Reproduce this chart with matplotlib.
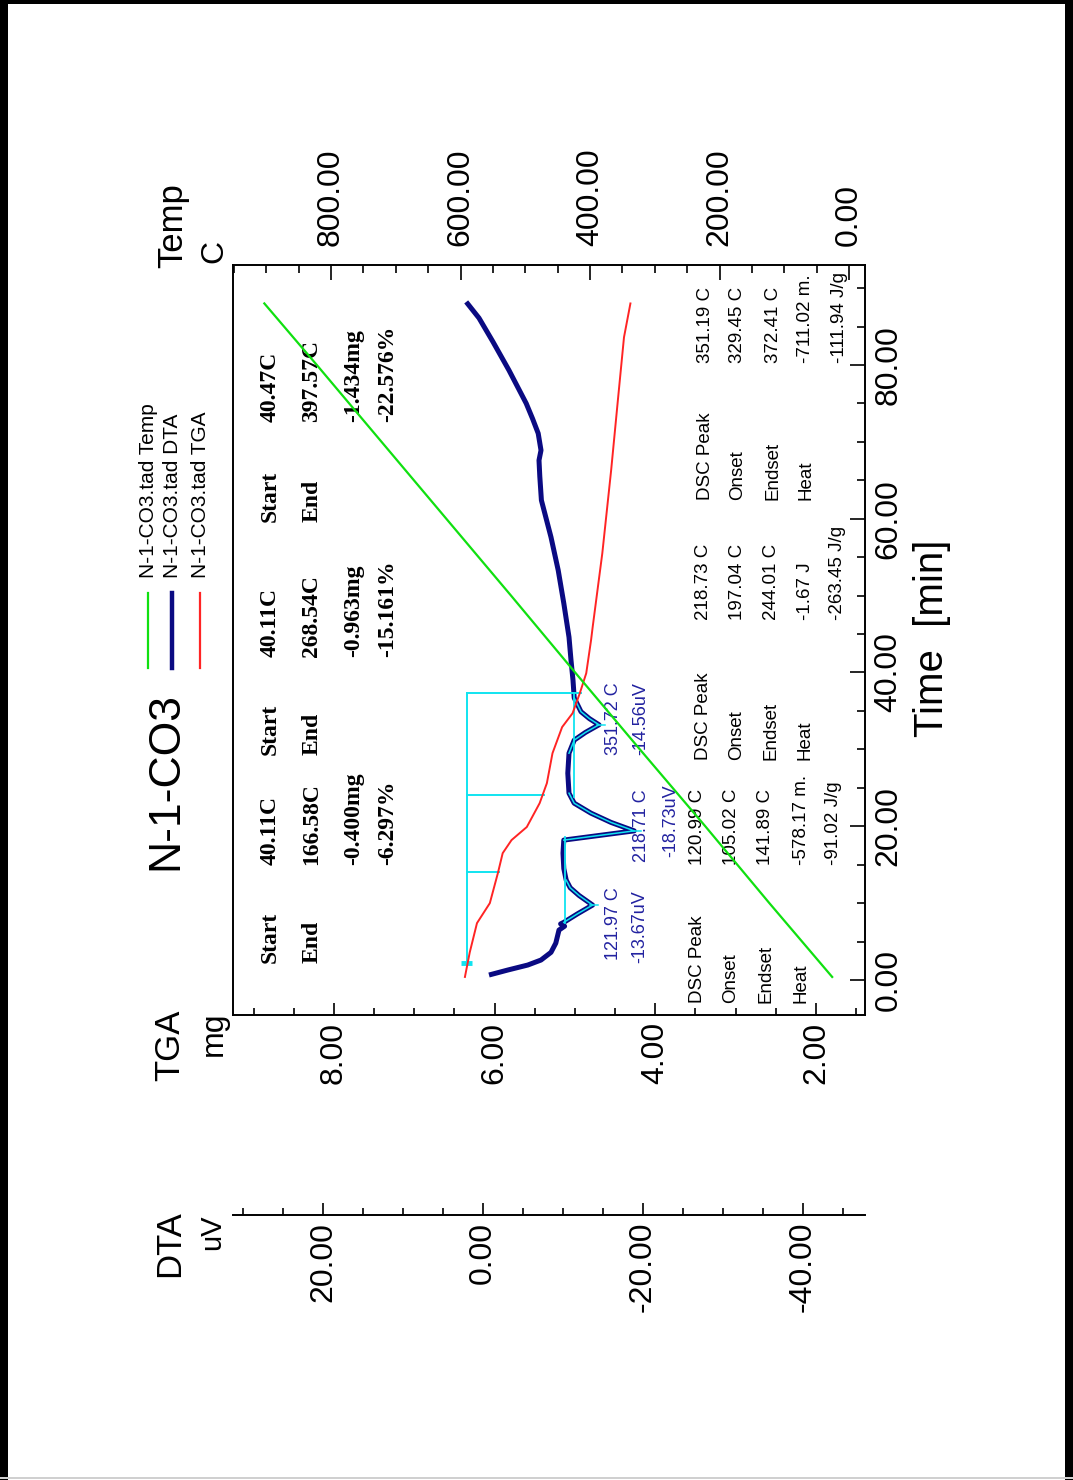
import numpy as np
import matplotlib
matplotlib.use("Agg")
import matplotlib.pyplot as plt
import matplotlib.transforms as mtransforms
from matplotlib.lines import Line2D
from matplotlib.patches import Rectangle
from matplotlib.ticker import FixedLocator, MultipleLocator, FormatStrFormatter
from matplotlib import font_manager as fm

# ---------------- data ----------------
temp_time = [0.4, 10, 20, 30, 40, 50, 60, 70, 80, 88.0]
temp_vals = [26, 123, 222, 323, 423, 522, 622, 722, 822, 903]

dta_time = [0.65, 1.3, 1.95, 2.6, 3.6, 4.8, 6.5, 7.0, 7.3, 7.5, 8.6, 9.75, 11.0, 12.0,
            13.0, 14.5, 16.5, 18.2, 19.4, 20.5, 21.7, 23.0, 24.3, 26.9, 29.5, 31.2,
            32.2, 33.2, 34.0, 34.9, 36.7, 39.0, 41.6, 44.6, 49.0, 53.3, 57.6, 62.4,
            65.5, 67.6, 68.9, 71.1, 73.0, 75.0, 79.3, 83.0, 86.1, 88.2]
dta_vals = [-0.75, -3.1, -5.6, -7.25, -8.5, -9.1, -9.5, -10.2, -9.7, -10.1, -11.8, -13.7,
            -12.0, -10.9, -10.4, -10.1, -10.0, -10.1, -18.9, -16.0, -13.5, -11.4, -10.75,
            -10.6, -10.75, -11.4, -12.8, -14.5, -13.3, -12.25, -11.4, -11.25, -11.0,
            -10.75, -10.1, -9.4, -8.5, -7.3, -7.1, -7.0, -7.25, -6.9, -6.2, -5.4, -3.25,
            -1.25, 0.5, 2.1]

tga_time = [0.4, 3.6, 7.4, 10.0, 13.9, 16.5, 18.2, 19.9, 23.0, 25.6, 29.5, 32.9, 34.7,
            37.3, 39.9, 44.2, 45.9, 55.5, 66.3, 75.0, 83.6, 88.0]
tga_vals = [6.37, 6.31, 6.22, 6.06, 5.96, 5.90, 5.79, 5.60, 5.44, 5.35, 5.28, 5.16, 5.03,
            4.94, 4.86, 4.80, 4.78, 4.66, 4.55, 4.47, 4.39, 4.31]

tga_initial_mass = 6.35
tga_start_time = 2.2
tga_step_times = [14.0, 24.1, 37.3]
tga_step_masses = [5.95, 5.39, 4.92]

peak_windows = [(7.4, 13.0), (18.2, 24.3), (29.5, 36.7)]
peak_times = [9.75, 19.4, 33.2]
peak_tips = [-14.4, -19.7, -15.3]
baseline_segments = [((7.4, 18.6), -10.3), ((23.8, 37.3), -11.4)]

time_ticks = [0, 20, 40, 60, 80]
tga_ticks = [2.0, 4.0, 6.0, 8.0]
temp_ticks = [0, 200, 400, 600, 800]
dta_ticks = [-40, -20, 0, 20]

title = "N-1-CO3"
legend_labels = ["N-1-CO3.tad Temp", "N-1-CO3.tad DTA", "N-1-CO3.tad TGA"]

step_blocks = [
    (("Start", "End"), ("40.11C", "166.58C", "-0.400mg", "-6.297%")),
    (("Start", "End"), ("40.11C", "268.54C", "-0.963mg", "-15.161%")),
    (("Start", "End"), ("40.47C", "397.57C", "-1.434mg", "-22.576%")),
]
dsc_labels = ["DSC Peak", "Onset", "Endset", "Heat"]
dsc_values = [
    ["120.99 C", "105.02 C", "141.89 C", "-578.17 m.", "-91.02 J/g"],
    ["218.73 C", "197.04 C", "244.01 C", "-1.67 J", "-263.45 J/g"],
    ["351.19 C", "329.45 C", "372.41 C", "-711.02 m.", "-111.94 J/g"],
]
peak_labels = [
    ("121.97 C", "-13.67uV"),
    ("218.71 C", "-18.73uV"),
    ("351.72 C", "-14.56uV"),
]

# ---------------- style ----------------
W, H, DPI = 1073, 1480, 100
GREEN = "#10e010"
NAVY = "#0a0a82"
RED = "#ff2424"
CYAN = "#10e4f0"
PEAKBLUE = "#2222a0"

names = {f.name for f in fm.fontManager.ttflist}
SANS = "Liberation Sans" if "Liberation Sans" in names else "DejaVu Sans"
SERIF = "Liberation Serif" if "Liberation Serif" in names else "DejaVu Serif"
if "Liberation Sans Narrow" in names:
    NARROW, NARROW_SIZE = "Liberation Sans Narrow", 28
else:
    NARROW, NARROW_SIZE = SANS, 23

plt.rcParams["font.family"] = [SANS, "DejaVu Sans"]

fig = plt.figure(figsize=(W / DPI, H / DPI), dpi=DPI, facecolor="white")
PX = mtransforms.Affine2D().scale(1.0 / W, -1.0 / H).translate(0, 1) + fig.transFigure

L, R, T, B = 233, 865, 265, 1015
ax = fig.add_axes([L / W, 1 - B / H, (R - L) / W, (B - T) / H])
ax3 = ax.twiny()   # DTA
ax2 = ax.twiny()   # Temp
ax3.set_zorder(1)
ax.set_zorder(2)
ax2.set_zorder(3)
ax3.patch.set_visible(True)
ax3.patch.set_facecolor("white")
ax.patch.set_visible(False)
ax2.patch.set_visible(False)

# limits
ax.set_ylim(-4.55, 93.0)
ax.set_xlim(9.257, 1.390)
ax2.set_xlim(951.4, -24.7)
ax3.set_xlim(31.25, -47.75)

# ---------------- curves ----------------
ax3.plot(dta_vals, dta_time, color=NAVY, lw=3.6, solid_capstyle="butt", zorder=2)
dt = np.array(dta_time)
dv = np.array(dta_vals)
for (t0, t1) in peak_windows:
    m = (dt >= t0) & (dt <= t1)
    ax3.plot(dv[m], dt[m], color=CYAN, lw=1.1, zorder=3)
for tp, vp in zip(peak_times, peak_tips):
    ax3.plot([vp + 1.0, vp], [tp, tp], color=CYAN, lw=1.1, zorder=3)
for (t0, t1), v in baseline_segments:
    ax3.plot([v, v], [t0, t1], color=CYAN, lw=1.3, zorder=3)

ax.plot(tga_vals, tga_time, color=RED, lw=1.4, zorder=3)
ax.plot([tga_initial_mass, tga_initial_mass], [tga_start_time, tga_step_times[-1]],
        color=CYAN, lw=1.4, zorder=2)
for t, mss in zip(tga_step_times, tga_step_masses):
    ax.plot([tga_initial_mass, mss], [t, t], color=CYAN, lw=1.4, zorder=2)
ax.plot([tga_initial_mass + 0.07, tga_initial_mass - 0.07], [tga_start_time, tga_start_time],
        color=CYAN, lw=3.5, solid_capstyle="butt", zorder=2)

ax2.plot(temp_vals, temp_time, color=GREEN, lw=1.6, zorder=4)

# ---------------- axes styling ----------------
SPW = 1.4
for s in ax.spines.values():
    s.set_linewidth(SPW)
for a in (ax2, ax3):
    for s in a.spines.values():
        s.set_visible(False)
ax3.spines["bottom"].set_visible(True)
ax3.spines["bottom"].set_linewidth(SPW)
ax3.spines["bottom"].set_position(("outward", 144))

# time (y) axis, right side
ax.yaxis.set_major_locator(FixedLocator(time_ticks))
ax.yaxis.set_minor_locator(MultipleLocator(5))
ax.yaxis.set_major_formatter(FormatStrFormatter("%.2f"))
ax.tick_params(axis="y", which="both", direction="in", left=False, right=True,
               labelleft=False, labelright=True, labelrotation=90, pad=6, width=1.2)
ax.tick_params(axis="y", which="major", length=11)
ax.tick_params(axis="y", which="minor", length=6)
for lb in ax.get_yticklabels():
    lb.set_fontfamily([NARROW, "DejaVu Sans"])
    lb.set_fontsize(NARROW_SIZE)
    lb.set_va("center")
    lb.set_ha("left")

# TGA (bottom)
ax.xaxis.set_major_locator(FixedLocator(tga_ticks))
ax.xaxis.set_minor_locator(MultipleLocator(0.5))
ax.xaxis.set_major_formatter(FormatStrFormatter("%.2f"))
ax.xaxis.set_ticks_position("bottom")
ax.tick_params(axis="x", which="both", direction="in", bottom=True, top=False,
               labelbottom=True, labeltop=False, labelrotation=90, labelsize=23,
               pad=5, width=1.2)
ax.tick_params(axis="x", which="major", length=9)
ax.tick_params(axis="x", which="minor", length=5)

# Temp (top)
ax2.xaxis.set_major_locator(FixedLocator(temp_ticks))
ax2.xaxis.set_minor_locator(MultipleLocator(50))
ax2.xaxis.set_major_formatter(FormatStrFormatter("%.2f"))
ax2.xaxis.set_ticks_position("top")
ax2.tick_params(axis="x", which="both", direction="in", top=True, bottom=False,
                labeltop=True, labelbottom=False, labelrotation=90, labelsize=23,
                pad=14, width=1.2)
ax2.tick_params(axis="x", which="major", length=11)
ax2.tick_params(axis="x", which="minor", length=6)

# DTA (offset bottom)
ax3.xaxis.set_major_locator(FixedLocator(dta_ticks))
ax3.xaxis.set_minor_locator(MultipleLocator(5))
ax3.xaxis.set_major_formatter(FormatStrFormatter("%.2f"))
ax3.xaxis.set_ticks_position("bottom")
ax3.xaxis.set_label_position("bottom")
ax3.tick_params(axis="x", which="both", direction="in", top=False, bottom=True,
                labeltop=False, labelbottom=True, labelrotation=90, labelsize=23,
                pad=5, width=1.2)
ax3.tick_params(axis="x", which="major", length=9)
ax3.tick_params(axis="x", which="minor", length=5)


# ---------------- texts ----------------
def ftext(x, y, s, size, va="bottom", ha="center", **kw):
    return fig.text(x, y, s, transform=PX, rotation=90, fontsize=size, va=va, ha=ha, **kw)


def atext(x, y, s, size, va="bottom", ha="center", **kw):
    return ax.text(x, y, s, transform=PX, rotation=90, fontsize=size, va=va, ha=ha,
                   clip_on=True, **kw)


ftext(166, 781, title, 32, va="center")
# axis titles
ftext(170, 1010, "TGA", 25, va="top")
ftext(214, 1012, "mg", 23, va="top")
ftext(170, 1210, "DTA", 25, va="top")
ftext(212, 1214, "uV", 21, va="top")
ftext(173, 268, "Temp", 25, va="bottom")
ftext(214, 263, "C", 23, va="bottom")
ftext(932, 638, "Time  [min]", 29, va="center", family=[NARROW, "DejaVu Sans"])

# legend
leg_x = [148, 172, 200]
leg_c = [GREEN, NAVY, RED]
leg_w = [1.6, 3.2, 1.6]
for x, c, w, s in zip(leg_x, leg_c, leg_w, legend_labels):
    fig.add_artist(Line2D([x, x], [593, 668], transform=PX, color=c, lw=w))
    ftext(x, 578, s, 15, va="bottom")

# start/end blocks
blk_lab_y = [963, 755, 522]
blk_val_y = [865, 657, 422]
row_x = [270, 312, 354, 388]
for (labs, vals), yl, yv in zip(step_blocks, blk_lab_y, blk_val_y):
    for i, s in enumerate(labs):
        atext(row_x[i], yl, s, 17, family=[SERIF, "DejaVu Serif"], weight="bold")
    for i, s in enumerate(vals):
        atext(row_x[i], yv, s, 17, family=[SERIF, "DejaVu Serif"], weight="bold")

# DSC blocks
dsc_lab_y = [1003, 760, 500]
dsc_val_y = [865, 620, 363]
dsc_rows = [[697, 731, 766, 801, 833], [703, 737, 771, 805, 837], [705, 738, 773, 806, 840]]
for vals, yl, yv, rows in zip(dsc_values, dsc_lab_y, dsc_val_y, dsc_rows):
    for i, s in enumerate(dsc_labels):
        atext(rows[i], yl, s, 13.5)
    for i, s in enumerate(vals):
        atext(rows[i], yv, s, 13.5)

# peak labels
peak_pos = [((613, 960), (640, 963)), ((641, 862), (671, 857)), ((614, 755), (641, 755))]
for (a, b), ((xa, ya), (xb, yb)) in zip(peak_labels, peak_pos):
    atext(xa, ya, a, 13, color=PEAKBLUE)
    atext(xb, yb, b, 13, color=PEAKBLUE)

# outer border
fig.add_artist(Rectangle((0, 0), W, 4, transform=PX, color="black", lw=0))
fig.add_artist(Rectangle((0, 0), 8, H, transform=PX, color="black", lw=0))
fig.add_artist(Rectangle((W - 8, 0), 8, H, transform=PX, color="black", lw=0))
fig.add_artist(Rectangle((0, H - 3), W, 2, transform=PX, color="#d0d0d0", lw=0))

fig.savefig("out.png", dpi=DPI, facecolor="white")
